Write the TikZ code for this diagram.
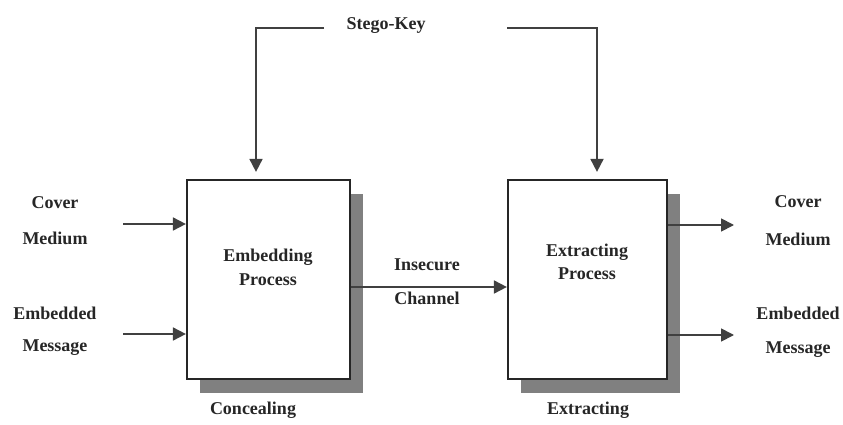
\documentclass[tikz,border=0pt]{standalone}
\usepackage{fontspec}
\setmainfont{Liberation Serif}
\usetikzlibrary{arrows.meta,shadows}
\begin{document}
\begin{tikzpicture}[x=1pt,y=-1pt,
  lbl/.style={font=\fontsize{18}{18}\selectfont\bfseries, text=black!85, inner sep=0pt},
  procbox/.style={draw=black!85, line width=2.2pt, fill=white, inner sep=0pt,
     minimum height=199pt,
     drop shadow={shadow xshift=13pt, shadow yshift=-14pt, fill=black!50, opacity=1}},
  conn/.style={draw=black!75, line width=1.8pt},
  arr/.style={conn, -{Triangle[length=13pt,width=13pt]}}
]
\useasboundingbox (0,0) rectangle (843,425);
\node[procbox, minimum width=163pt] (lbox) at (268.5,279.5) {};
\node[procbox, minimum width=159pt] (rbox) at (587.5,279.5) {};

% labels
\node[lbl] (key) at (386,26) {Stego-Key};
\node[lbl] (emb1) at (268,257) {Embedding};
\node[lbl] (emb2) at (268,280) {Process};
\node[lbl] (ext1) at (587,252) {Extracting};
\node[lbl] (ext2) at (587,274) {Process};
\node[lbl] (conc) at (253,410) {Concealing};
\node[lbl] (extr) at (588,410) {Extracting};
\node[lbl] (ins1) at (427,265) {Insecure};
\node[lbl] (ins2) at (427,298) {Channel};
\node[lbl] (lcov1) at (55,203) {Cover};
\node[lbl] (lcov2) at (55,238) {Medium};
\node[lbl] (lmsg1) at (55,313) {Embedded};
\node[lbl] (lmsg2) at (55,348) {Message};
\node[lbl] (rcov1) at (798,202) {Cover};
\node[lbl] (rcov2) at (798,239) {Medium};
\node[lbl] (rmsg1) at (798,313) {Embedded};
\node[lbl] (rmsg2) at (798,350) {Message};

% stego-key connectors
\coordinate (kl) at (324,28);
\coordinate (klc) at (256,28);
\coordinate (kr) at (507,28);
\coordinate (krc) at (597,28);
\draw[arr, shorten >=7pt] (kl) -- (klc) -- (klc |- lbox.north);
\draw[arr, shorten >=7pt] (kr) -- (krc) -- (krc |- rbox.north);

% inputs
\coordinate (in1) at (123,224);
\coordinate (in2) at (123,334);
\draw[arr] (in1) -- (in1 -| lbox.west);
\draw[arr] (in2) -- (in2 -| lbox.west);

% channel
\coordinate (ch) at (350,287);
\draw[arr] (ch -| lbox.east) -- (ch -| rbox.west);

% outputs
\coordinate (out1) at (734,225);
\coordinate (out2) at (734,335);
\draw[arr] (out1 -| rbox.east) -- (out1);
\draw[arr] (out2 -| rbox.east) -- (out2);
\end{tikzpicture}
\end{document}
